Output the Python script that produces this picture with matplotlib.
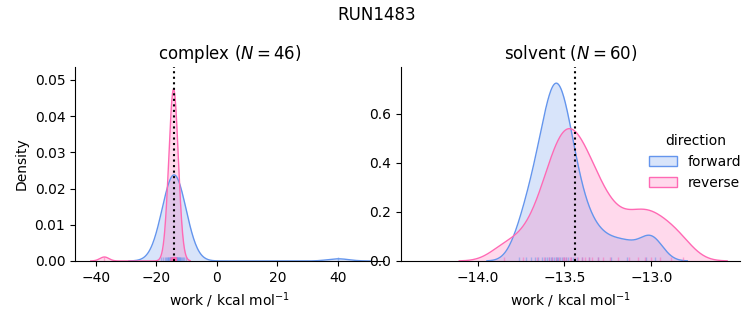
import numpy as np
import matplotlib.pyplot as plt
from matplotlib.colors import to_rgb
from matplotlib.patches import Patch

complex_forward = [-18.5, -17.7, -17.2, -16.8, -16.5, -16.2, -16.0, -15.8, -15.6, -15.4,
                   -15.2, -15.1, -14.9, -14.8, -14.7, -14.6, -14.5, -14.4, -14.3, -14.2,
                   -14.1, -14.0, -13.9, -13.8, -13.7, -13.6, -13.5, -13.4, -13.2, -13.1,
                   -13.0, -12.8, -12.6, -12.4, -12.2, -12.0, -11.7, -11.4, -11.1, -10.7,
                   -10.2, -15.0, -13.3, -15.3, -12.9, 40.1]
complex_reverse = [-15.5, -15.2, -15.0, -14.9, -14.8, -14.75, -14.7, -14.65, -14.6, -14.55,
                   -14.5, -14.45, -14.45, -14.4, -14.4, -14.35, -14.35, -14.3, -14.3, -14.25,
                   -14.25, -14.2, -14.2, -14.15, -14.1, -14.1, -14.05, -14.0, -13.95, -13.9,
                   -13.85, -13.8, -13.75, -13.7, -13.6, -13.5, -13.3, -14.6, -14.3, -14.2,
                   -14.0, -13.9, -14.5, -14.1, -13.8, -37.1]
solvent_forward = [-13.76, -13.72, -13.69, -13.67, -13.65, -13.63, -13.61, -13.60, -13.59, -13.58,
                   -13.57, -13.56, -13.55, -13.545, -13.535, -13.525, -13.515, -13.505, -13.49, -13.48,
                   -13.465, -13.45, -13.43, -13.40, -13.36, -13.31, -13.23, -13.14, -13.03, -12.98]
solvent_reverse = [-13.85, -13.74, -13.66, -13.62, -13.59, -13.57, -13.55, -13.53, -13.51, -13.50,
                   -13.49, -13.47, -13.46, -13.44, -13.42, -13.40, -13.38, -13.36, -13.34, -13.31,
                   -13.28, -13.24, -13.19, -13.13, -13.08, -13.04, -13.00, -12.95, -12.89, -12.82]

# free energy estimate (dotted line)
dg_complex = -14.1
dg_solvent = -13.44

directions = ['forward', 'reverse']
colors = {'forward': 'cornflowerblue', 'reverse': 'hotpink'}

# kde settings: bandwidth and share of the common norm for each direction
bw = {'complex': (3.5, 1.5), 'solvent': (0.062, 0.085)}
share = {'complex': (0.24, 0.19), 'solvent': (0.25, 0.30)}


def kde(values, h, weight):
    values = np.asarray(values)
    x = np.linspace(values.min() - 3 * h, values.max() + 3 * h, 400)
    z = (x[:, None] - values[None, :]) / h
    y = np.exp(-0.5 * z ** 2).sum(axis=1) / (len(values) * h * np.sqrt(2 * np.pi))
    return x, y * weight


fig = plt.figure(figsize=(7.53, 3.25), dpi=100)
ax1 = fig.add_axes([0.0996, 0.197, 0.4104, 0.597])
ax2 = fig.add_axes([0.5325, 0.197, 0.4505, 0.597])

panels = [
    (ax1, 'complex', 46, [complex_forward, complex_reverse], dg_complex),
    (ax2, 'solvent', 60, [solvent_forward, solvent_reverse], dg_solvent),
]

for ax, phase, n, data, dg in panels:
    for i, d in enumerate(directions):
        x, y = kde(data[i], bw[phase][i], share[phase][i])
        ax.fill_between(x, 0, y, color=colors[d], alpha=0.25, lw=0)
        ax.plot(x, y, color=colors[d], lw=1)
        # rug
        ax.vlines(data[i], 0, 0.02, transform=ax.get_xaxis_transform(),
                  color=colors[d], alpha=0.5, lw=1)
    ax.axvline(dg, color='k', ls=':', lw=1.5)
    ax.set_title(f'{phase} ($N = {n}$)')
    ax.set_xlabel('work / kcal mol$^{-1}$')
    ax.spines['top'].set_visible(False)
    ax.spines['right'].set_visible(False)

ax1.set_ylabel('Density')
ax1.set_xlim(-46.8, 55.2)
ax1.set_ylim(0, 0.0536)
ax2.set_xlim(-14.44, -12.49)
ax2.set_ylim(0, 0.79)
ax2.set_xticks([-14.0, -13.5, -13.0])

handles = [Patch(facecolor=(*to_rgb(colors[d]), 0.25), edgecolor=colors[d]) for d in directions]
ax2.legend(handles, directions, title='direction', frameon=False,
           loc='center left', bbox_to_anchor=(0.695, 0.51))

fig.suptitle('RUN1483')
fig.savefig('out.png', dpi=100)
